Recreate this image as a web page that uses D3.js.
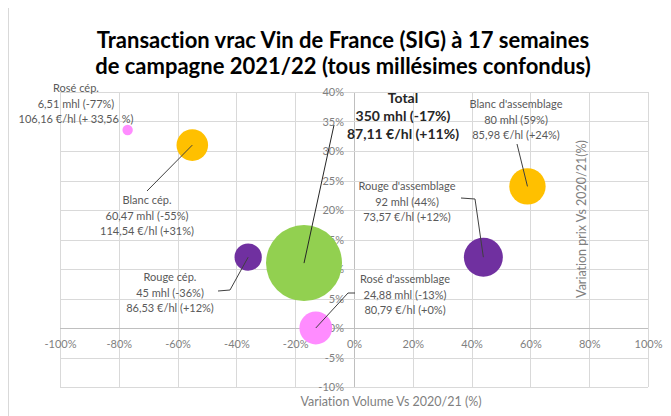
<!DOCTYPE html>
<html><head><meta charset="utf-8">
<script src="https://cdn.jsdelivr.net/npm/d3@7/dist/d3.min.js"></script>
<style>body{margin:0;background:#fff}svg{display:block}text{font-variant-ligatures:none;font-feature-settings:"liga" 0,"dlig" 0,"clig" 0}</style>
</head><body><svg id="c" width="671" height="416"></svg>
<script>
// ---- data ----
const categories = ["Rosé cép.", "Blanc cép.", "Rouge cép.", "Total", "Rosé d'assemblage", "Rouge d'assemblage", "Blanc d'assemblage"];
const volumeVariation = [-77, -55, -36, -17, -13, 44, 59];      // % vs 2020/21
const priceVariation  = [33.56, 31, 12, 11, 0, 12, 24];         // % vs 2020/21
const bubbleSize      = [6.51, 60.47, 45, 350, 65, 92, 80];     // bubble size as drawn
const volumeLabels = ["6,51 mhl (-77%)", "60,47 mhl (-55%)", "45 mhl (-36%)", "350 mhl (-17%)", "24,88 mhl (-13%)", "92 mhl (44%)", "80 mhl (59%)"];
const priceLabels  = ["106,16 €/hl (+ 33,56 %)", "114,54 €/hl (+31%)", "86,53 €/hl (+12%)", "87,11 €/hl (+11%)", "80,79 €/hl (+0%)", "73,57 €/hl (+12%)", "85,98 €/hl (+24%)"];
const xTicks = [-100, -80, -60, -40, -20, 0, 20, 40, 60, 80, 100];
const yTicks = [-10, -5, 0, 5, 10, 15, 20, 25, 30, 35, 40];
const titleLines = ["Transaction vrac Vin de France (SIG) à 17 semaines", "de campagne 2021/22 (tous millésimes confondus)"];
const xTitle = "Variation Volume Vs 2020/21 (%)";
const yTitle = "Variation prix Vs 2020/21(%)";

// ---- styles / layout ----
const colors = ["#FF8CFF", "#FFC000", "#7030A0", "#92D050", "#FF8CFF", "#7030A0", "#FFC000"];
// label block: center x, first line baseline y; leader: polyline end points (pixel)
const labelLayout = [
  {x: 76,  y: 92,  lead: []},
  {x: 147, y: 204, lead: [[147, 191]]},
  {x: 170, y: 281, lead: [[230, 290], [218, 291]]},
  {x: 403, y: 103, lead: [[334, 125]], bold: true},
  {x: 405, y: 283, lead: [[348, 293], [355, 293]]},
  {x: 407, y: 190, lead: [[475, 199], [461, 198]]},
  {x: 516, y: 108, lead: [[517, 144]]}
];
const font = "Lato, 'Open Sans', sans-serif";

const svg = d3.select("#c");
const x = d3.scaleLinear().domain([-100, 100]).range([60, 648]);
const y = d3.scaleLinear().domain([-10, 40]).range([387, 92]);
const r = d3.scaleSqrt().domain([0, 350]).range([0, 38]);

// chart border line on the left
svg.append("line").attr("x1", 8.5).attr("x2", 8.5).attr("y1", 8).attr("y2", 416)
  .attr("stroke", "#d9d9d9").attr("stroke-width", 1);

// title
svg.append("g").selectAll("text").data(titleLines).join("text")
  .attr("x", 343).attr("y", (d, i) => 48 + i * 26)
  .attr("text-anchor", "middle").attr("font-family", font)
  .attr("font-weight", "bold").attr("font-size", 22).attr("fill", "#000")
  .text(d => d);

// gridlines
const grid = svg.append("g");
grid.selectAll("line.v").data(xTicks).join("line")
  .attr("x1", d => Math.round(x(d)) + 0.5).attr("x2", d => Math.round(x(d)) + 0.5)
  .attr("y1", y(40)).attr("y2", y(-10))
  .attr("stroke", d => d === 0 ? "#bfbfbf" : "#d9d9d9");
grid.selectAll("line.h").data(yTicks).join("line")
  .attr("y1", d => Math.round(y(d)) + 0.5).attr("y2", d => Math.round(y(d)) + 0.5)
  .attr("x1", x(-100)).attr("x2", x(100))
  .attr("stroke", d => d === 0 ? "#bfbfbf" : "#d9d9d9");

// axes tick labels via d3 axes
const xAxis = svg.append("g").attr("transform", `translate(0,${y(0)})`)
  .call(d3.axisBottom(x).tickValues(xTicks).tickFormat(d => d + "%").tickSize(0).tickPadding(12));
const yAxis = svg.append("g").attr("transform", `translate(${x(0)},0)`)
  .call(d3.axisLeft(y).tickValues(yTicks).tickFormat(d => d + "%").tickSize(0).tickPadding(10));
[xAxis, yAxis].forEach(g => {
  g.select(".domain").remove();
  g.selectAll("text").attr("font-family", font).attr("font-size", 11).attr("fill", "#7f7f7f");
});

// axis titles
svg.append("text").attr("x", 391).attr("y", 406).attr("text-anchor", "middle")
  .attr("font-family", font).attr("font-size", 12.5).attr("fill", "#7f7f7f").text(xTitle);
svg.append("text").attr("transform", "translate(586,219) rotate(-90)").attr("text-anchor", "middle")
  .attr("font-family", font).attr("font-size", 12.5).attr("fill", "#7f7f7f").text(yTitle);

// bubbles (draw larger first)
const idx = d3.range(categories.length).sort((a, b) => bubbleSize[b] - bubbleSize[a]);
svg.append("g").selectAll("circle").data(idx).join("circle")
  .attr("cx", i => x(volumeVariation[i])).attr("cy", i => y(priceVariation[i]))
  .attr("r", i => r(bubbleSize[i])).attr("fill", i => colors[i]);

// leader lines
svg.append("g").selectAll("polyline").data(d3.range(categories.length).filter(i => labelLayout[i].lead.length)).join("polyline")
  .attr("points", i => [[x(volumeVariation[i]), y(priceVariation[i])], ...labelLayout[i].lead].map(p => p.join(",")).join(" "))
  .attr("fill", "none").attr("stroke", i => labelLayout[i].bold ? "#262626" : "#404040").attr("stroke-width", 1);

// labels
const lg = svg.append("g");
d3.range(categories.length).forEach(i => {
  const L = labelLayout[i];
  const lines = [categories[i], volumeLabels[i], priceLabels[i]];
  const t = lg.append("text").attr("text-anchor", "middle").attr("font-family", font)
    .attr("font-size", L.bold ? 14 : 11).attr("font-weight", L.bold ? "bold" : "normal")
    .attr("fill", L.bold ? "#262626" : "#595959");
  lines.forEach((s, k) => t.append("tspan").attr("x", L.x).attr("y", L.y + k * (L.bold ? 18 : 15.5)).text(s));
});
</script></body></html>
